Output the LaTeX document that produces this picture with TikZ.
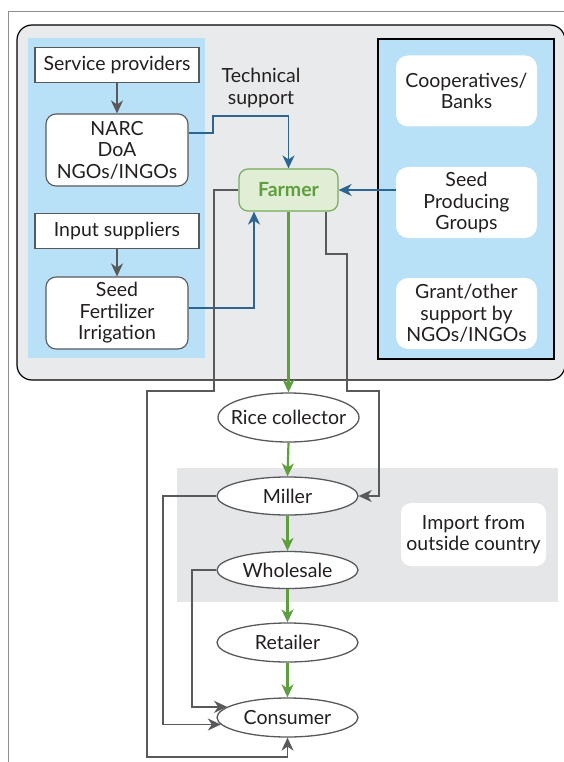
\documentclass[tikz,border=0pt]{standalone}
\usepackage{fontspec}
\setmainfont{Lato}
\usetikzlibrary{arrows.meta,shapes.geometric}
\definecolor{panelblue}{HTML}{B8E0F6}
\definecolor{boxgray}{HTML}{E9EAEB}
\definecolor{bandgray}{HTML}{E5E6E7}
\definecolor{linegray}{HTML}{58595B}
\definecolor{flowblue}{HTML}{2D6592}
\definecolor{flowgreen}{HTML}{5E9E3E}
\definecolor{farmfill}{HTML}{E0EED5}
\definecolor{farmedge}{HTML}{78AC5C}
\definecolor{framegray}{HTML}{8C8E90}
\definecolor{ink}{HTML}{231F20}
\begin{document}
\begin{tikzpicture}[x=1pt,y=-1pt,
  every node/.style={font=\fontsize{19.5}{21.5}\selectfont, text=ink, align=center, inner sep=0pt},
  sqbox/.style={draw=linegray, line width=1.1pt, fill=white, minimum width=164pt, minimum height=35pt},
  rbox/.style={draw=linegray, line width=1.1pt, fill=white, rounded corners=10pt, minimum width=142pt, minimum height=72pt},
  wbox/.style={fill=white, rounded corners=12pt, minimum width=141pt, minimum height=71pt},
  oval/.style={ellipse, draw=linegray, line width=1.3pt, fill=white, minimum width=141pt, minimum height=38pt},
  tip/.style={-{Stealth[length=13pt,width=12pt,inset=4pt]}},
  grayflow/.style={draw=linegray, line width=1.6pt, tip},
  blueflow/.style={draw=flowblue, line width=1.8pt, tip},
  greenflow/.style={draw=flowgreen, line width=2.2pt, tip},
]
\useasboundingbox (0,0) rectangle (564,762);

% page frame
\draw[framegray, line width=1pt] (8,762) -- (8,12) -- (564,12);

% production container and its two side panels
\draw[fill=boxgray, line width=1.2pt, rounded corners=15pt] (17,25) rectangle (565,380);
\fill[panelblue] (28,38) rectangle (205,358);
\draw[fill=panelblue, line width=1.2pt] (378,39) rectangle (554,359);

% import band
\fill[bandgray] (177,468) rectangle (558,602);

% left panel: providers and inputs
\node[sqbox] (serv) at (117,65) {Service providers};
\node[rbox] (narc) at (117,150) {NARC\\DoA\\NGOs/INGOs};
\node[sqbox] (inp) at (117,231) {Input suppliers};
\node[rbox] (seed) at (117,313) {Seed\\Fertilizer\\Irrigation};

% right panel: support institutions
\node[wbox] (coop) at (466.5,91) {Cooperatives/\\Banks};
\node[wbox] (sprod) at (466.5,202.5) {Seed\\Producing\\Groups};
\node[wbox] (grant) at (466.5,313.5) {Grant/other\\support by\\NGOs/INGOs};

% farmer
\node[draw=farmedge, fill=farmfill, line width=1.2pt, rounded corners=9pt,
      minimum width=99pt, minimum height=42pt,
      font=\fontsize{19.5}{21.5}\selectfont\bfseries, text=flowgreen] (farmer) at (288.5,190) {Farmer};
\node (tech) at (261,88) {Technical\\support};

% marketing chain
\node[oval, minimum height=49pt, inner xsep=-11pt] (rice) at (288.5,417.5) {Rice collector};
\node[oval] (miller) at (287.5,496) {Miller};
\node[oval, minimum height=37pt] (whole) at (287.5,570) {Wholesale};
\node[oval, minimum height=39pt] (retail) at (287.5,642.5) {Retailer};
\node[oval, minimum height=39pt] (cons) at (287.5,717.5) {Consumer};
\node[fill=white, rounded corners=10pt, minimum width=145pt, minimum height=63pt] (import) at (473.5,534.5) {Import from\\outside country};

% supply arrows inside the left panel
\draw[grayflow] (serv) -- (narc);
\draw[grayflow] (inp) -- (seed);

% support flows towards the farmer
\draw[blueflow] ([yshift=17pt]narc.east) -| (213,116) -| (farmer.north);
\draw[blueflow] ([yshift=5pt]seed.east) -| ([xshift=-34.5pt]farmer.south);
\draw[blueflow] (sprod.west |- farmer.east) -- (farmer.east);

% main product flow
\draw[greenflow] (farmer.south) -- (rice.north);
\draw[greenflow] (rice.south) -- (miller.north);
\draw[greenflow] (miller.south) -- (whole.north);
\draw[greenflow] (whole.south) -- (retail.north);
\draw[greenflow] (retail.south) -- (cons.north);

% direct sales bypassing the chain
\draw[grayflow] (farmer.west) -| (214,391) -| (147,757) -| (cons.south);
\draw[grayflow] ([xshift=37.5pt]farmer.south) |- (347,254) |- (379,391) |- (miller.east);
\draw[grayflow] (miller.west) -- ++(-53.5,0) |- (cons.186);
\draw[grayflow] (whole.west) -- ++(-24.5,0) |- (cons.170);
\end{tikzpicture}
\end{document}
